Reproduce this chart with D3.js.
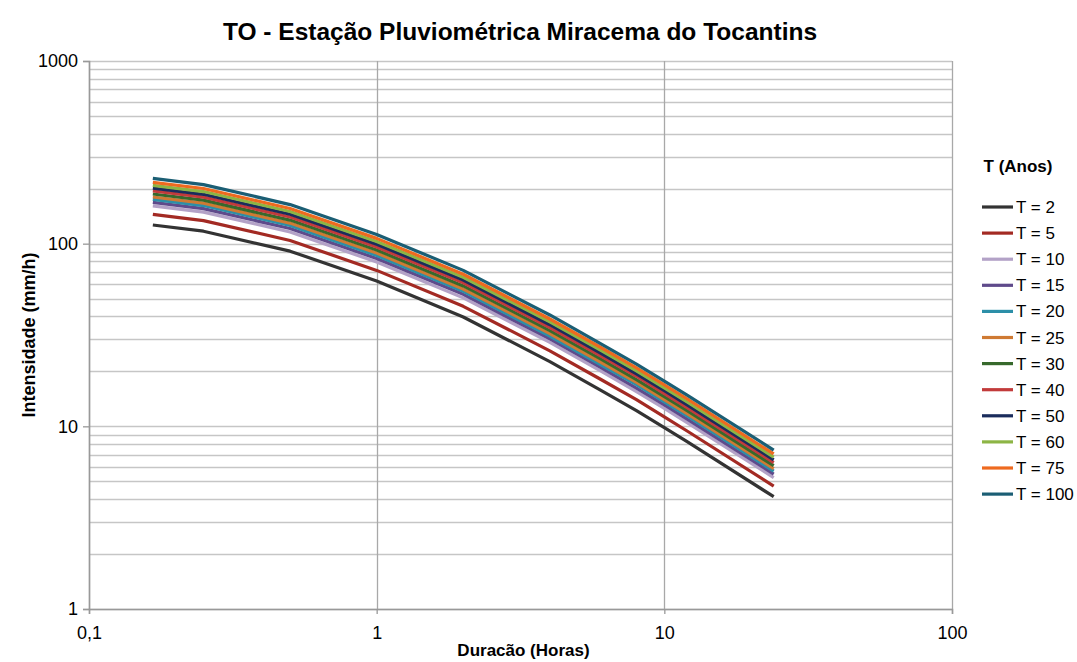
<!DOCTYPE html>
<html>
<head>
<meta charset="utf-8">
<script src="https://cdn.jsdelivr.net/npm/d3@7"></script>
<style>
body{margin:0;background:#fff;}
text{font-family:"Liberation Sans",Arial,sans-serif;fill:#000;}
</style>
</head>
<body>
<svg width="1077" height="662"></svg>
<script>
const svg=d3.select("svg");
const margin={left:89, right:125, top:61, bottom:53};
const width=1077-margin.left-margin.right, height=662-margin.top-margin.bottom;
const g=svg.append("g").attr("transform","translate("+margin.left+","+margin.top+")");

// durations in hours (10, 15, 30 min, then hours)
const durations=[0.1667, 0.25, 0.5, 1, 2, 4, 6, 8, 10, 12, 24];
const periods=["T = 2","T = 5","T = 10","T = 15","T = 20","T = 25","T = 30","T = 40","T = 50","T = 60","T = 75","T = 100"];
const colors=["#333333","#a32a23","#b3a2c7","#5f4a8b","#2c8fa8","#cf7a33","#37692c","#c23b3b","#1a2c5c","#8db545","#ee6a1f","#1b5e74"];

// intensities (mm/h)
const t2  =[126.5,117.0, 91.0, 62.4,39.7,22.6,15.8,12.2, 9.84, 8.24,4.12];
const t5  =[144.7,133.8,104.1, 71.4,45.4,25.9,18.1,14.0,11.26, 9.43,4.71];
const t10 =[161.0,148.9,115.8, 79.4,50.5,28.8,20.1,15.5,12.53,10.49,5.24];
const t15 =[168.2,155.6,121.0, 83.0,52.8,30.1,21.0,16.2,13.09,10.96,5.48];
const t20 =[174.8,161.7,125.8, 86.2,54.9,31.2,21.8,16.9,13.60,11.39,5.69];
const t25 =[180.1,166.6,129.6, 88.9,56.5,32.2,22.5,17.4,14.01,11.73,5.87];
const t30 =[187.1,173.0,134.6, 92.3,58.7,33.4,23.4,18.0,14.55,12.19,6.09];
const t40 =[194.4,179.8,139.9, 95.9,61.0,34.7,24.3,18.8,15.12,12.66,6.33];
const t50 =[201.4,186.3,144.9, 99.3,63.2,36.0,25.2,19.4,15.67,13.12,6.56];
const t60 =[208.6,192.9,150.1,102.9,65.5,37.3,26.1,20.1,16.23,13.59,6.79];
const t75 =[216.7,200.4,155.9,106.9,68.0,38.7,27.1,20.9,16.86,14.12,7.06];
const t100=[227.6,210.5,163.7,112.3,71.4,40.7,28.4,21.9,17.70,14.82,7.41];
const series=[t2,t5,t10,t15,t20,t25,t30,t40,t50,t60,t75,t100];

const xTicks=[0.1,1,10,100], xTickLabels=["0,1","1","10","100"];
const yTicks=[1,10,100,1000];

const x=d3.scaleLog().domain([0.1,100]).range([0,width]);
const y=d3.scaleLog().domain([1,1000]).range([height,0]);

// minor horizontal grid
const minor=[];
[1,10,100].forEach(d=>{for(let k=1;k<=9;k++) minor.push(d*k);});
minor.push(1000);
g.append("g").selectAll("line").data(minor).enter().append("line")
 .attr("x1",0).attr("x2",width)
 .attr("y1",d=>Math.round(y(d))+0.5).attr("y2",d=>Math.round(y(d))+0.5)
 .attr("stroke","#c6c6c6").attr("stroke-width",1.3);

// vertical grid at decades
g.append("g").selectAll("line").data(xTicks).enter().append("line")
 .attr("x1",d=>Math.round(x(d))+0.5).attr("x2",d=>Math.round(x(d))+0.5)
 .attr("y1",0).attr("y2",height)
 .attr("stroke","#a8a8a8").attr("stroke-width",1.3);

// axes
const yAxis=g.append("g").call(d3.axisLeft(y).tickValues(yTicks).tickFormat(d3.format("d")).tickSize(6).tickPadding(5));
const xAxis=g.append("g").attr("transform","translate(0,"+height+")")
 .call(d3.axisBottom(x).tickValues(xTicks).tickFormat((d,i)=>xTickLabels[i]).tickSize(5).tickPadding(12));
[yAxis,xAxis].forEach(a=>{
  a.select(".domain").attr("stroke","#999").attr("stroke-width",1.5);
  a.selectAll(".tick line").attr("stroke","#999").attr("stroke-width",1.3);
  a.selectAll("text").style("font-size","18px").attr("fill","#000");
});

// lines
const line=d3.line().x((d,i)=>x(durations[i])).y(d=>y(d));
g.append("g").selectAll("path").data(series).enter().append("path")
 .attr("d",line).attr("fill","none")
 .attr("stroke",(d,i)=>colors[i]).attr("stroke-width",3.2)
 .attr("stroke-linejoin","round");

// title
svg.append("text").attr("x",520).attr("y",40).attr("text-anchor","middle")
 .style("font-size","24.5px").style("font-weight","bold")
 .text("TO - Estação Pluviométrica Miracema do Tocantins");

// axis titles
svg.append("text").attr("x",margin.left+width/2+3).attr("y",656).attr("text-anchor","middle")
 .style("font-size","17px").style("font-weight","bold").text("Duracão (Horas)");
svg.append("text").attr("transform","translate(35,"+(margin.top+height/2)+") rotate(-90)")
 .attr("text-anchor","middle").style("font-size","18px").style("font-weight","bold")
 .text("Intensidade (mm/h)");

// legend
const legend=svg.append("g").attr("transform","translate(982,207)");
legend.append("text").attr("x",36).attr("y",-35).attr("text-anchor","middle")
 .style("font-size","17px").style("font-weight","bold").text("T (Anos)");
const items=legend.selectAll("g").data(periods).enter().append("g")
 .attr("transform",(d,i)=>"translate(0,"+(i*26.1)+")");
items.append("line").attr("x1",0).attr("x2",31).attr("y1",0).attr("y2",0)
 .attr("stroke",(d,i)=>colors[i]).attr("stroke-width",3.2);
items.append("text").attr("x",34).attr("y",6).style("font-size","17px").text(d=>d);
</script>
</body>
</html>
